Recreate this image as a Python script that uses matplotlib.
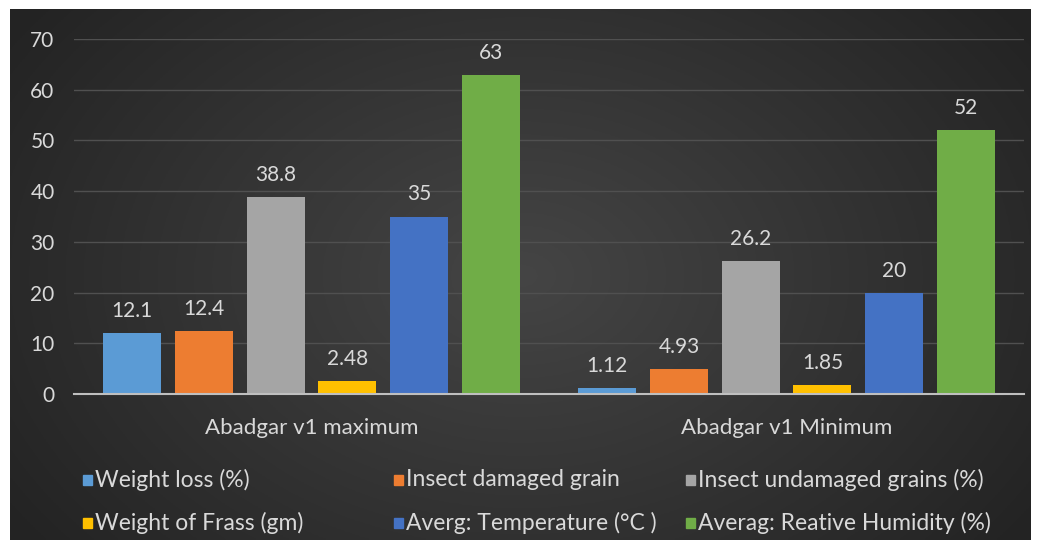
import numpy as np
import matplotlib.pyplot as plt
from matplotlib.patches import Rectangle

plt.rcParams['font.family'] = ['Lato', 'DejaVu Sans']

# data
categories = ['Abadgar v1 maximum', 'Abadgar v1 Minimum']
series = ['Weight loss (%)', 'Insect damaged grain', 'Insect undamaged grains (%)',
          'Weight of Frass (gm)', 'Averg: Temperature (°C )', 'Averag: Reative Humidity (%)']
weight_loss = [12.1, 1.12]
damaged = [12.4, 4.93]
undamaged = [38.8, 26.2]
frass = [2.48, 1.85]
temperature = [35, 20]
humidity = [63, 52]
values = [weight_loss, damaged, undamaged, frass, temperature, humidity]
labels_txt = [['12.1', '1.12'], ['12.4', '4.93'], ['38.8', '26.2'],
              ['2.48', '1.85'], ['35', '20'], ['63', '52']]
colors = ['#5B9BD5', '#ED7D31', '#A5A5A5', '#FFC000', '#4472C4', '#70AD47']
txt_col = '#d9d9d9'

fig = plt.figure(figsize=(10.4, 5.49), dpi=100)
fig.patch.set_facecolor('white')

# dark radial background panel
bg = fig.add_axes([10 / 1040, 9 / 549, 1021 / 1040, 531 / 549])
yy, xx = np.mgrid[0:200, 0:400]
r = np.sqrt(((xx - 200) / 220.0) ** 2 + ((yy - 100) / 150.0) ** 2)
shade = np.clip(0.27 - 0.12 * r, 0.14, 0.27)
bg.imshow(np.dstack([shade] * 3), aspect='auto', extent=[0, 1, 0, 1])
bg.set_axis_off()

ax = fig.add_axes([74 / 1040, 155 / 549, 950 / 1040, 355 / 549])
ax.set_facecolor('none')

x = np.arange(len(categories))
step = 0.151
width = 0.122
for i, (vals, c) in enumerate(zip(values, colors)):
    pos = x + (i - 2.5) * step
    ax.bar(pos, vals, width=width, color=c, zorder=3)
    for p, v, t in zip(pos, vals, labels_txt[i]):
        ax.annotate(t, (p, v), xytext=(0, 12), textcoords='offset pixels',
                    ha='center', va='bottom', color=txt_col, fontsize=15)

ax.set_xlim(-0.5, 1.5)
ax.set_ylim(0, 70)
ax.set_yticks(range(0, 71, 10))
ax.yaxis.grid(True, color='#505050', linewidth=1, zorder=0)
ax.set_xticks(x)
ax.set_xticklabels(categories, fontsize=16)
ax.tick_params(axis='both', length=0, colors=txt_col)
ax.tick_params(axis='y', labelsize=15, pad=14)
ax.tick_params(axis='x', pad=17)
for s in ['top', 'right', 'left']:
    ax.spines[s].set_visible(False)
ax.spines['bottom'].set_color('#bfbfbf')
ax.spines['bottom'].set_linewidth(1.5)
ax.spines['bottom'].set_zorder(4)

# legend, placed like the original
col_x = [83, 394, 686]
row_y = [480, 523]
for i, (name, c) in enumerate(zip(series, colors)):
    cx = col_x[i % 3]
    cy = row_y[i // 3]
    fig.patches.append(Rectangle((cx / 1040, (549 - cy - 5) / 549), 9 / 1040, 10 / 549,
                                 transform=fig.transFigure, color=c, figure=fig))
    fig.text((cx + 12) / 1040, (549 - cy) / 549, name, color=txt_col,
             fontsize=16.5, va='center', ha='left')

fig.savefig('out.png', dpi=100)
